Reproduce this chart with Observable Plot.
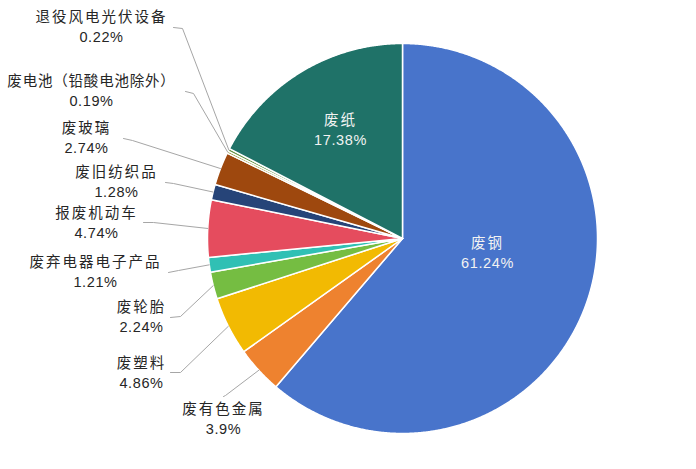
<!DOCTYPE html>
<html>
<head>
<meta charset="utf-8">
<script src="https://cdn.jsdelivr.net/npm/d3@7"></script>
<script src="https://cdn.jsdelivr.net/npm/@observablehq/plot@0.6"></script>
<style>
  html, body { margin: 0; padding: 0; background: #fff; }
  #chart { width: 696px; height: 469px; }
</style>
</head>
<body>
<div id="chart"></div>
<script>
// ---- data ----
const names = ["废钢", "废有色金属", "废塑料", "废轮胎", "废弃电器电子产品", "报废机动车", "废旧纺织品", "废玻璃", "废电池（铅酸电池除外）", "退役风电光伏设备", "废纸"];
const values = [61.24, 3.9, 4.86, 2.24, 1.21, 4.74, 1.28, 2.74, 0.19, 0.22, 17.38];
const colors = ["#4874cb", "#ee822f", "#f2ba02", "#75bd42", "#30c0b4", "#e54c5e", "#264478", "#9e480e", "#8c8c2a", "#5e8f3a", "#1f7268"];

// ---- layout (pixel space) ----
const W = 696, H = 469;
const cx = 402, cy = 238, R = 195;
const labelLayout = {
  "废钢": {inside: [487, 243]},
  "废纸": {inside: [340, 120]},
  "废有色金属": {text: [223, 409], start: [223, 396], elbow: [225, 395]},
  "废塑料": {text: [141, 363], start: [170, 372], elbow: [180, 372]},
  "废轮胎": {text: [141, 307], start: [170, 317], elbow: [180, 316]},
  "废弃电器电子产品": {text: [95, 262], start: [168, 272], elbow: [178, 270]},
  "报废机动车": {text: [96, 213], start: [143, 222], elbow: [153, 222]},
  "废旧纺织品": {text: [116, 172], start: [165, 182], elbow: [173, 183]},
  "废玻璃": {text: [86, 128], start: [123, 138], elbow: [132, 140]},
  "废电池（铅酸电池除外）": {text: [91, 81], start: [185, 91], elbow: [193, 93], spacing: 0.8},
  "退役风电光伏设备": {text: [101, 17], start: [173, 27], elbow: [182, 28]}
};
const lineGap = 20;

// ---- geometry from data ----
const arcs = d3.pie().sort(null).value(d => d)(values);
const polar = (a, r) => ({x: cx + r * Math.sin(a), y: cy - r * Math.cos(a)});

const slicePts = [];
arcs.forEach((p, i) => {
  const name = names[i];
  slicePts.push({name, x: cx, y: cy});
  const n = Math.max(2, Math.ceil((p.endAngle - p.startAngle) / 0.005));
  for (let k = 0; k <= n; k++) {
    const a = p.startAngle + (p.endAngle - p.startAngle) * k / n;
    slicePts.push({name, ...polar(a, R)});
  }
  slicePts.push({name, x: cx, y: cy});
});

const leaderPts = [];
const outLabels = [];
const inLabels = [];
arcs.forEach((p, i) => {
  const name = names[i];
  const L = labelLayout[name];
  const pct = values[i] + "%";
  if (L.inside) {
    inLabels.push({name, pct, x: L.inside[0], y: L.inside[1]});
  } else {
    const mid = (p.startAngle + p.endAngle) / 2;
    const edge = polar(mid, R);
    leaderPts.push({name, x: L.start[0], y: L.start[1]});
    leaderPts.push({name, x: L.elbow[0], y: L.elbow[1]});
    leaderPts.push({name, x: edge.x, y: edge.y});
    outLabels.push({name, pct, x: L.text[0], y: L.text[1]});
  }
});

const cjk = "'Noto Sans CJK SC', 'Noto Sans', sans-serif";
const num = "'Liberation Sans', Arial, sans-serif";

const chart = Plot.plot({
  width: W,
  height: H,
  margin: 0,
  x: {domain: [0, W], axis: null},
  y: {domain: [H, 0], axis: null},
  color: {domain: names, range: colors},
  marks: [
    Plot.line(slicePts, {x: "x", y: "y", z: "name", fill: "name", stroke: "white", strokeWidth: 1.5, strokeLinejoin: "round", curve: "linear"}),
    Plot.line(leaderPts, {x: "x", y: "y", z: "name", stroke: "#a6a6a6", strokeWidth: 1, curve: "linear"}),
    Plot.text(outLabels, {x: "x", y: "y", text: "name", fill: "#262626", fontSize: 14.5, fontFamily: cjk}),
    Plot.text(outLabels, {x: "x", y: d => d.y + lineGap, text: "pct", fill: "#262626", fontSize: 14.5, fontFamily: num}),
    Plot.text(inLabels, {x: "x", y: "y", text: "name", fill: "#f2f2f2", fontSize: 14.5, fontFamily: cjk}),
    Plot.text(inLabels, {x: "x", y: d => d.y + lineGap, text: "pct", fill: "#f2f2f2", fontSize: 14.5, fontFamily: num})
  ]
});

// spread the CJK name labels like the reference
const textGroups = chart.querySelectorAll('g[aria-label="text"]');
[0, 2].forEach(k => { if (textGroups[k]) textGroups[k].setAttribute("letter-spacing", "2px"); });
[1, 3].forEach(k => { if (textGroups[k]) textGroups[k].setAttribute("letter-spacing", "0.6px"); });
if (textGroups[0]) {
  textGroups[0].querySelectorAll("text").forEach(t => {
    const L = labelLayout[t.textContent];
    if (L && L.spacing != null) t.setAttribute("letter-spacing", L.spacing + "px");
  });
}

document.getElementById("chart").appendChild(chart);
</script>
</body>
</html>
